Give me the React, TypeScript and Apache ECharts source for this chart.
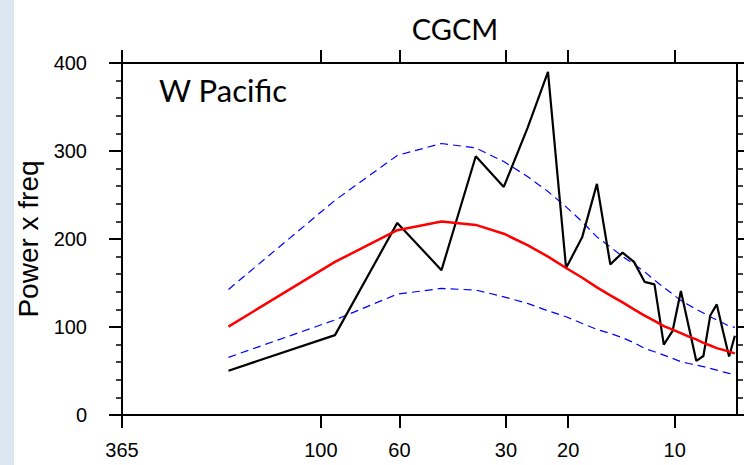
import React, { useEffect, useRef } from "react";
import * as echarts from "echarts";

// Spectral estimates at harmonics of a 182.5-day base period
const BASE_PERIOD = 182.5;
const HARMONICS = [1, 2, 3, 4, 5, 6, 7, 8, 9, 10, 11, 12, 13, 14, 15, 16, 17, 18, 19, 20, 21, 22, 23, 24, 25, 26, 27];

// Power x frequency of the model spectrum
const SPECTRUM = [50.3, 90.8, 218.3, 164.6, 294, 259.2, 326, 389.8, 167, 202.4, 262.6, 171.2, 184.5, 174, 151.3, 148.4, 80, 95.5, 141, 100.2, 61.6, 67, 113, 125.7, 95, 66.5, 90];
// Red-noise background and its confidence bounds
const RED_NOISE = [100.5, 174, 210, 220, 216, 206, 193, 180, 167, 156, 145, 136, 128, 120, 113, 107, 101, 97, 93, 89, 86, 82, 79, 76, 74, 72, 70];
const UPPER_BOUND = [142.7, 244, 295, 308.5, 303.5, 288, 271, 254, 236.5, 219.5, 202.4, 191, 180, 171.4, 162.7, 153.3, 145, 137.4, 130, 125, 120, 116, 111.6, 108, 104.5, 101, 99.6];
const LOWER_BOUND = [65.5, 108, 137.4, 143.8, 142, 134.3, 126.8, 118.4, 111.6, 104, 97.3, 92.7, 87.8, 82.1, 75.7, 71.9, 68.1, 64.3, 60.5, 58.5, 56.8, 55, 53, 51, 49, 47.3, 46.5];

// Period ticks (days) on a log-frequency axis
const TICK_PERIODS = [365, 100, 60, 30, 20, 10];
const MIN_FREQ = 1 / 365;
const MAX_FREQ = 0.15;
const Y_TICKS = [0, 100, 200, 300, 400];

const logF = (f: number) => Math.log10(f);
const pairs = (vals: number[]) => HARMONICS.map((j, i) => [logF(j / BASE_PERIOD), vals[i]]);

const TICK_POS = TICK_PERIODS.map((p) => logF(1 / p));
const periodLabel = (v: number) => String(Math.round(1 / Math.pow(10, v)));

const AXIS_FONT = "Liberation Sans, Arial, Helvetica, sans-serif";

export default function App() {
  const ref = useRef<HTMLDivElement>(null);

  useEffect(() => {
    if (!ref.current) return;
    const chart = echarts.init(ref.current, undefined, { renderer: "svg" });

    const lineStyle = { color: "#000", width: 2 };
    const xCommon = {
      type: "value" as const,
      min: logF(MIN_FREQ),
      max: logF(MAX_FREQ),
      splitLine: { show: false },
      axisLine: { show: true, onZero: false, lineStyle },
      axisTick: { show: true, inside: false, length: 13, lineStyle, customValues: TICK_POS },
    };
    const yCommon = {
      type: "value" as const,
      min: Y_TICKS[0],
      max: Y_TICKS[Y_TICKS.length - 1],
      interval: 100,
      splitLine: { show: false },
      axisLine: { show: true, lineStyle },
      axisTick: { show: true, inside: false, length: 13, lineStyle },
      minorTick: { show: true, splitNumber: 5, length: 6, lineStyle: { color: "#000", width: 1.5 } },
    };

    chart.setOption({
      animation: false,
      backgroundColor: "#ffffff",
      grid: { left: 122, right: 7, top: 63, bottom: 50, containLabel: false },
      graphic: [
        { type: "rect", left: 0, top: 0, shape: { x: 0, y: 0, width: 14, height: 465 }, style: { fill: "#dce6f1" } },
        {
          type: "text",
          x: 455,
          y: 14,
          style: { text: "CGCM", fontSize: 29, fontFamily: "Lato, sans-serif", fill: "#000", align: "center", verticalAlign: "top" },
        },
        {
          type: "text",
          x: 159,
          y: 74,
          style: { text: "W Pacific", fontSize: 31, fontFamily: "Lato, sans-serif", fill: "#000", align: "left", verticalAlign: "top" },
        },
      ],
      xAxis: [
        {
          ...xCommon,
          position: "bottom",
          axisLabel: {
            show: true,
            margin: 25,
            fontSize: 20,
            fontFamily: AXIS_FONT,
            color: "#000",
            customValues: TICK_POS,
            formatter: (v: number) => periodLabel(v),
          },
        },
        {
          ...xCommon,
          position: "top",
          axisLabel: { show: false },
        },
      ],
      yAxis: [
        {
          ...yCommon,
          position: "left",
          name: "Power x freq",
          nameLocation: "middle",
          nameRotate: 90,
          nameGap: 80,
          nameTextStyle: { fontSize: 28, fontFamily: AXIS_FONT, color: "#000" },
          axisLabel: { show: true, margin: 35, fontSize: 20, fontFamily: AXIS_FONT, color: "#000" },
        },
        {
          ...yCommon,
          position: "right",
          axisLabel: { show: false },
        },
      ],
      series: [
        {
          name: "Spectrum",
          type: "line",
          data: pairs(SPECTRUM),
          symbol: "none",
          lineStyle: { color: "#000", width: 2.2 },
          z: 3,
        },
        {
          name: "Red noise",
          type: "line",
          data: pairs(RED_NOISE),
          symbol: "none",
          lineStyle: { color: "#ff0000", width: 2.5 },
          z: 4,
        },
        {
          name: "Lower",
          type: "line",
          data: pairs(LOWER_BOUND),
          symbol: "none",
          lineStyle: { color: "#0000ff", width: 1.2, type: [8, 5] },
          z: 2,
        },
        {
          name: "Upper",
          type: "line",
          data: pairs(UPPER_BOUND),
          symbol: "none",
          lineStyle: { color: "#0000ff", width: 1.2, type: [8, 5] },
          z: 2,
        },
      ],
    });

    return () => chart.dispose();
  }, []);

  return (
    <div
      ref={ref}
      style={{ position: "fixed", left: 0, top: 0, width: 744, height: 465, background: "#fff" }}
    />
  );
}
